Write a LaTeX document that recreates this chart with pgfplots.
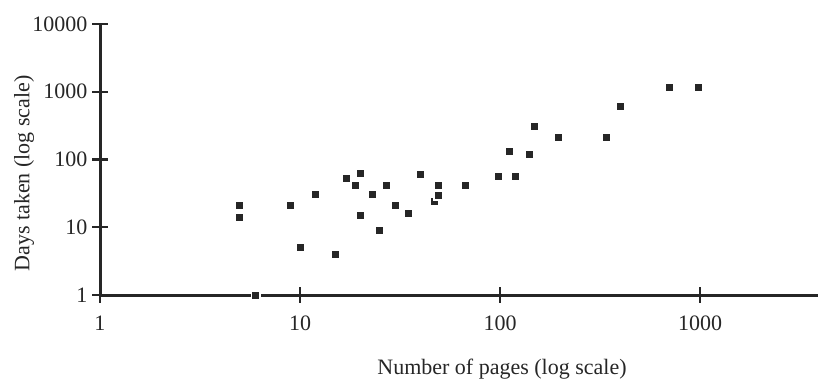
\documentclass[border=0pt]{standalone}
\usepackage{fontspec}
\setmainfont{Liberation Serif}
\usepackage{pgfplots}
\pgfplotsset{compat=1.18}
\definecolor{ink}{HTML}{262626}
\begin{document}
\begin{tikzpicture}[font=\fontsize{22}{26}\selectfont]
\begin{axis}[
  at={(0,0)}, anchor=south west,
  scale only axis, width=718pt, height=271pt,
  xmode=log, ymode=log,
  xmin=1, xmax=3890, ymin=1, ymax=10000,
  axis lines*=left,
  axis line style={ink, line width=3pt},
  xtick={1,10,100,1000}, xticklabels={1,10,100,1000},
  ytick={1,10,100,1000,10000}, yticklabels={1,10,100,1000,10000},
  xminorticks=false, yminorticks=false,
  tick align=center, major tick length=16pt,
  tick style={ink, line width=2.2pt},
  xticklabel style={yshift=-9pt, text=ink},
  yticklabel style={xshift=-1pt, text=ink},
  clip=false,
]
\addplot[only marks, mark=square*, mark size=4.3pt,
  mark options={fill=ink, draw=white, line width=1.6pt}]
  coordinates {
  (5,21) (5,14) (6,1) (9,21) (10,5) (12,30) (15,4)
  (17,53) (19,41) (20,62) (20,15) (23,30) (25,9) (27,41)
  (30,21) (35,16) (40,61) (47,24) (49,29) (49,41) (67,41)
  (98,56) (120,56) (112,130) (140,120) (148,310) (196,208)
  (340,208) (400,610) (700,1140) (980,1140)
  };
\end{axis}
\node[ink] at (402pt,-74pt) {Number of pages (log scale)};
\node[ink, rotate=90] at (-76pt,121.5pt) {Days taken (log scale)};
\pgfresetboundingbox
\useasboundingbox (-100pt,-90pt) rectangle (718pt,295pt);
\end{tikzpicture}
\end{document}
